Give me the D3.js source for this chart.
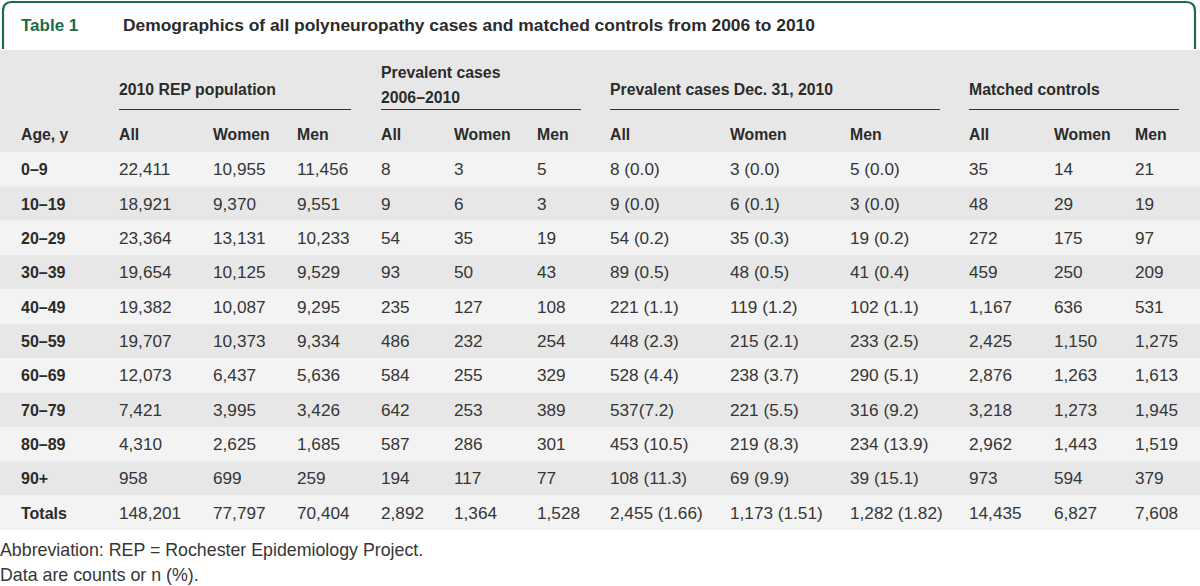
<!DOCTYPE html>
<html>
<head>
<meta charset="utf-8">
<script src="https://cdn.jsdelivr.net/npm/d3@7"></script>
<style>
  html, body { margin: 0; padding: 0; background: #fff; }
  svg { display: block; }
  text { font-family: "Liberation Sans", Arial, sans-serif; }
</style>
</head>
<body>
<svg id="chart" width="1200" height="586"></svg>
<script>
// ---------- DATA ----------
const tableLabel = "Table 1";
const tableTitle = "Demographics of all polyneuropathy cases and matched controls from 2006 to 2010";
const groupTitles = [["2010 REP population"], ["Prevalent cases", "2006–2010"], ["Prevalent cases Dec. 31, 2010"], ["Matched controls"]];
const columnHeads = ["Age, y", "All", "Women", "Men", "All", "Women", "Men", "All", "Women", "Men", "All", "Women", "Men"];
const ageGroups = ["0–9", "10–19", "20–29", "30–39", "40–49", "50–59", "60–69", "70–79", "80–89", "90+", "Totals"];
const repAll   = [22411, 18921, 23364, 19654, 19382, 19707, 12073, 7421, 4310, 958, 148201];
const repWomen = [10955, 9370, 13131, 10125, 10087, 10373, 6437, 3995, 2625, 699, 77797];
const repMen   = [11456, 9551, 10233, 9529, 9295, 9334, 5636, 3426, 1685, 259, 70404];
const prevAll   = [8, 9, 54, 93, 235, 486, 584, 642, 587, 194, 2892];
const prevWomen = [3, 6, 35, 50, 127, 232, 255, 253, 286, 117, 1364];
const prevMen   = [5, 3, 19, 43, 108, 254, 329, 389, 301, 77, 1528];
const decAll   = ["8 (0.0)", "9 (0.0)", "54 (0.2)", "89 (0.5)", "221 (1.1)", "448 (2.3)", "528 (4.4)", "537(7.2)", "453 (10.5)", "108 (11.3)", "2,455 (1.66)"];
const decWomen = ["3 (0.0)", "6 (0.1)", "35 (0.3)", "48 (0.5)", "119 (1.2)", "215 (2.1)", "238 (3.7)", "221 (5.5)", "219 (8.3)", "69 (9.9)", "1,173 (1.51)"];
const decMen   = ["5 (0.0)", "3 (0.0)", "19 (0.2)", "41 (0.4)", "102 (1.1)", "233 (2.5)", "290 (5.1)", "316 (9.2)", "234 (13.9)", "39 (15.1)", "1,282 (1.82)"];
const ctrlAll   = [35, 48, 272, 459, 1167, 2425, 2876, 3218, 2962, 973, 14435];
const ctrlWomen = [14, 29, 175, 250, 636, 1150, 1263, 1273, 1443, 594, 6827];
const ctrlMen   = [21, 19, 97, 209, 531, 1275, 1613, 1945, 1519, 379, 7608];
const footnotes = ["Abbreviation: REP = Rochester Epidemiology Project.", "Data are counts or n (%)."];

// ---------- LAYOUT ----------
const W = 1200;
const fmt = d3.format(",");
const colKeys = d3.range(columnHeads.length);
const colX = d3.scaleOrdinal().domain(colKeys)
  .range([21, 119, 213, 297, 381, 454, 537, 610, 730, 850, 969, 1054, 1135]);
const groupSpan = [[1, 3, 351], [4, 6, 581], [7, 9, 940], [10, 12, 1179]];
const rowY = d3.scaleBand().domain(ageGroups).range([152, 530]).paddingInner(0);

const columns = [
  ageGroups,
  repAll.map(fmt), repWomen.map(fmt), repMen.map(fmt),
  prevAll.map(fmt), prevWomen.map(fmt), prevMen.map(fmt),
  decAll, decWomen, decMen,
  ctrlAll.map(fmt), ctrlWomen.map(fmt), ctrlMen.map(fmt)
];

const svg = d3.select("#chart");
const green = "#1c6b4c";
const textCol = "#363636";
const headCol = "#2b2b2b";

// header background
svg.append("rect").attr("x", 0).attr("y", 50).attr("width", W).attr("height", 102).attr("fill", "#e7e7e7");

// row backgrounds
svg.append("g").selectAll("rect").data(ageGroups).join("rect")
  .attr("x", 0).attr("y", d => rowY(d)).attr("width", W).attr("height", rowY.bandwidth())
  .attr("fill", (d, i) => i % 2 === 0 ? "#f2f3f2" : "#e7e7e7");

// green title frame
const r = 9, x0 = 3, x1 = 1195, y0 = 2, yb = 49;
svg.append("path")
  .attr("d", `M${x0},${yb} L${x0},${y0 + r} Q${x0},${y0} ${x0 + r},${y0} L${x1 - r},${y0} Q${x1},${y0} ${x1},${y0 + r} L${x1},${yb}`)
  .attr("fill", "none").attr("stroke", green).attr("stroke-width", 2.2);

svg.append("text").attr("x", 21).attr("y", 31).attr("fill", green)
  .attr("font-size", 17).attr("font-weight", "bold").text(tableLabel);
svg.append("text").attr("x", 123).attr("y", 31).attr("fill", headCol)
  .attr("font-size", 17.4).attr("font-weight", "bold").text(tableTitle);

// group titles and underlines
const gH = svg.append("g");
groupTitles.forEach((lines, gi) => {
  const [c0, c1, xe] = groupSpan[gi];
  const xs = colX(c0);
  const t = gH.append("text").attr("x", xs).attr("fill", headCol)
    .attr("font-size", 15.8).attr("font-weight", "bold");
  if (lines.length === 1) {
    t.attr("y", 95).text(lines[0]);
  } else {
    t.append("tspan").attr("x", xs).attr("y", 78).text(lines[0]);
    t.append("tspan").attr("x", xs).attr("y", 103).text(lines[1]);
  }
  gH.append("line").attr("x1", xs).attr("x2", xe).attr("y1", 109.5).attr("y2", 109.5)
    .attr("stroke", "#333").attr("stroke-width", 1.2);
});

// column heads
svg.append("g").selectAll("text").data(colKeys).join("text")
  .attr("x", d => colX(d)).attr("y", 140)
  .attr("fill", headCol).attr("font-size", 15.8).attr("font-weight", "bold")
  .text(d => columnHeads[d]);

// body cells
const body = svg.append("g");
columns.forEach((vals, ci) => {
  body.append("g").selectAll("text").data(vals).join("text")
    .attr("x", colX(ci))
    .attr("y", (d, i) => rowY(ageGroups[i]) + rowY.bandwidth() / 2 + 6)
    .attr("fill", ci === 0 ? headCol : textCol)
    .attr("font-weight", ci === 0 ? "bold" : "normal")
    .attr("font-size", ci === 0 ? 16 : 17.2)
    .text(d => d);
});

// footnotes
svg.append("g").selectAll("text").data(footnotes).join("text")
  .attr("x", 0).attr("y", (d, i) => 556 + i * 25)
  .attr("fill", textCol).attr("font-size", 17.8)
  .text(d => d);
</script>
</body>
</html>
